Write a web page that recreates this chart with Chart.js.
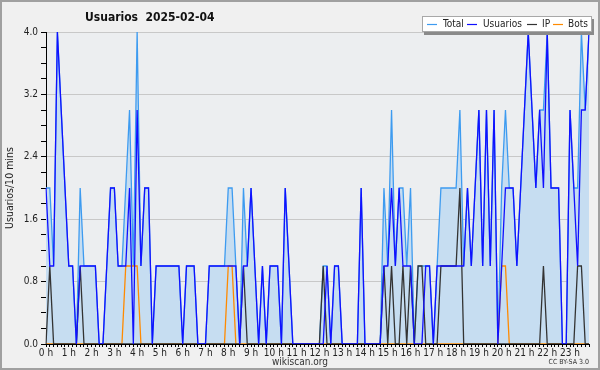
<!DOCTYPE html>
<html>
<head>
<meta charset="utf-8">
<script src="https://cdn.jsdelivr.net/npm/chart.js@4"></script>
<style>
  html, body { margin: 0; padding: 0; background: #f0f0f0; }
  #wrap { width: 600px; height: 370px; }
</style>
</head>
<body>
<div id="wrap"><canvas id="users-chart" width="600" height="370"></canvas></div>
<script>
// Data (10 minute slots, 2025-02-04)
const hourLabels = ["0 h", "1 h", "2 h", "3 h", "4 h", "5 h", "6 h", "7 h", "8 h", "9 h", "10 h", "11 h",
  "12 h", "13 h", "14 h", "15 h", "16 h", "17 h", "18 h", "19 h", "20 h", "21 h", "22 h", "23 h"];

const totalValues = [
  2,2,1,4,3,2,1,1,0,2,1,1,
  1,1,0,0,1,2,2,1,1,2,3,1,
  4,1,2,2,0,1,1,1,1,1,1,1,
  0,1,1,1,0,0,0,1,1,1,1,1,
  2,2,1,0,2,1,2,1,0,1,0,1,
  1,1,0,2,1,0,0,0,0,0,0,0,
  0,1,1,0,1,1,0,0,0,0,0,2,
  0,0,0,0,0,2,1,3,1,2,2,1,
  2,0,1,1,1,1,0,1,2,2,2,2,
  2,3,1,2,1,2,3,1,3,1,3,0,
  2,3,2,2,1,2,3,4,3,2,3,3,
  4,2,2,2,0,0,3,2,2,4,3,4
];
const usuariosValues = [
  2,1,1,4,3,2,1,1,0,1,1,1,
  1,1,0,0,1,2,2,1,1,1,2,0,
  3,1,2,2,0,1,1,1,1,1,1,1,
  0,1,1,1,0,0,0,1,1,1,1,1,
  1,1,1,0,1,1,2,1,0,1,0,1,
  1,1,0,2,1,0,0,0,0,0,0,0,
  0,0,1,0,1,1,0,0,0,0,0,2,
  0,0,0,0,0,1,1,2,1,2,1,1,
  1,0,0,0,1,1,0,1,1,1,1,1,
  1,1,1,2,1,2,3,1,3,1,3,0,
  1,2,2,2,1,2,3,4,3,2,3,2,
  4,2,2,2,0,0,3,2,1,3,3,4
];
const ipValues = [
  0,1,0,0,0,0,0,0,0,1,0,0,
  0,0,0,0,0,0,0,0,0,0,0,0,
  0,0,0,0,0,0,0,0,0,0,0,0,
  0,0,0,0,0,0,0,0,0,0,0,0,
  0,0,0,0,1,0,0,0,0,0,0,0,
  0,0,0,0,0,0,0,0,0,0,0,0,
  0,1,0,0,0,0,0,0,0,0,0,0,
  0,0,0,0,0,1,0,1,0,0,1,0,
  1,0,1,1,0,0,0,0,1,1,1,1,
  1,2,0,0,0,0,0,0,0,0,0,0,
  0,0,0,0,0,0,0,0,0,0,0,1,
  0,0,0,0,0,0,0,0,1,1,0,0
];
const botsValues = [
  0,0,0,0,0,0,0,0,0,0,0,0,
  0,0,0,0,0,0,0,0,0,1,1,1,
  1,0,0,0,0,0,0,0,0,0,0,0,
  0,0,0,0,0,0,0,0,0,0,0,0,
  1,1,0,0,0,0,0,0,0,0,0,0,
  0,0,0,0,0,0,0,0,0,0,0,0,
  0,0,0,0,0,0,0,0,0,0,0,0,
  0,0,0,0,0,0,0,0,0,0,0,0,
  0,0,0,0,0,0,0,0,0,0,0,0,
  0,0,0,0,0,0,0,0,0,0,0,0,
  1,1,0,0,0,0,0,0,0,0,0,0,
  0,0,0,0,0,0,0,0,0,0,0,0
];

// one label per 10 min slot
const slots = totalValues.map((v, i) => Math.floor(i / 6) + ':' + String((i % 6) * 10).padStart(2, '0'));

const seriesColors = {
  total: '#3d9bf0',
  usuarios: '#1010ff',
  ip: '#333333',
  bots: '#ff8a00'
};

const narrow = '"DejaVu Sans Condensed", "Liberation Sans Narrow", "DejaVu Sans"';

const isMajor = v => Math.round(v * 5) % 4 === 0;

// background, title, legend and footer
const decorPlugin = {
  id: 'decor',
  beforeDraw(chart) {
    const { ctx, chartArea: a, width, height } = chart;
    ctx.save();
    ctx.fillStyle = '#f0f0f0';
    ctx.fillRect(0, 0, width, height);
    ctx.fillStyle = '#eceef0';
    ctx.fillRect(a.left, a.top, a.right - a.left, a.bottom - a.top);
    ctx.restore();
  },
  afterDraw(chart) {
    const { ctx, width, height } = chart;
    ctx.save();
    // outer frame
    ctx.strokeStyle = '#a0a0a0';
    ctx.lineWidth = 2;
    ctx.strokeRect(1, 1, width - 2, height - 2);

    // title
    ctx.fillStyle = '#111';
    ctx.font = 'bold 12px ' + narrow;
    ctx.textBaseline = 'alphabetic';
    ctx.textAlign = 'left';
    ctx.fillText('Usuarios  2025-02-04', 85, 21);

    // legend box
    ctx.fillStyle = '#8a8a8a';
    ctx.fillRect(424, 19, 170, 16);
    ctx.fillStyle = '#ffffff';
    ctx.fillRect(422, 17, 169, 15);
    ctx.strokeStyle = '#a8a8a8';
    ctx.lineWidth = 1;
    ctx.strokeRect(422.5, 16.5, 169, 15);
    const items = [
      ['Total', seriesColors.total, 427, 443],
      ['Usuarios', seriesColors.usuarios, 467, 483],
      ['IP', seriesColors.ip, 527, 542],
      ['Bots', seriesColors.bots, 553, 568]
    ];
    ctx.font = '10px ' + narrow;
    ctx.textBaseline = 'middle';
    items.forEach(([label, color, lx, tx]) => {
      ctx.strokeStyle = color;
      ctx.lineWidth = 1.2;
      ctx.beginPath();
      ctx.moveTo(lx, 24.5);
      ctx.lineTo(lx + 10, 24.5);
      ctx.stroke();
      ctx.fillStyle = '#222';
      ctx.fillText(label, tx, 24.5);
    });

    // footer
    ctx.fillStyle = '#333';
    ctx.font = '10px ' + narrow;
    ctx.textAlign = 'center';
    ctx.fillText('wikiscan.org', 300, 362);
    ctx.font = '7px ' + narrow;
    ctx.textAlign = 'right';
    ctx.fillText('CC BY-SA 3.0', 589, 362);
    ctx.restore();
  }
};

const usersData = {
  labels: slots,
  datasets: [
    {
      label: 'Total',
      data: totalValues,
      borderColor: seriesColors.total,
      backgroundColor: '#c6ddf1',
      fill: 'origin',
      order: 4
    },
    {
      label: 'Usuarios',
      data: usuariosValues,
      borderColor: seriesColors.usuarios,
      fill: false,
      order: 1
    },
    {
      label: 'IP',
      data: ipValues,
      borderColor: seriesColors.ip,
      fill: false,
      order: 2
    },
    {
      label: 'Bots',
      data: botsValues,
      borderColor: seriesColors.bots,
      fill: false,
      order: 3
    }
  ]
};

const usersOptions = {
  responsive: false,
  animation: false,
  layout: {
    padding: { top: 32, right: 11, bottom: 0, left: 0 }
  },
  elements: {
    line: { tension: 0, borderWidth: 1.3 },
    point: { radius: 0 }
  },
  scales: {
    x: {
      type: 'category',
      offset: false,
      afterFit(scale) { scale.height = 26; },
      border: { display: true, color: '#000', width: 1 },
      grid: {
        drawOnChartArea: false,
        tickLength: 3,
        tickColor: '#000'
      },
      ticks: {
        autoSkip: false,
        maxRotation: 0,
        padding: 0,
        color: '#222',
        font: { family: narrow, size: 10 },
        callback: (val, idx) => idx % 6 === 0 ? hourLabels[idx / 6] : ''
      }
    },
    y: {
      min: 0,
      max: 4,
      afterFit(scale) { scale.width = 46; },
      border: { display: true, color: '#000', width: 1 },
      grid: {
        color: ctx => (ctx.tick && isMajor(ctx.tick.value) && ctx.tick.value > 0) ? '#c8c8c8' : 'rgba(0,0,0,0)',
        tickColor: '#000',
        tickLength: 5
      },
      ticks: {
        stepSize: 0.2,
        padding: 3,
        autoSkip: false,
        color: '#222',
        font: { family: narrow, size: 10 },
        callback: v => isMajor(v) ? v.toFixed(1) : ''
      },
      title: {
        display: true,
        text: 'Usuarios/10 mins',
        color: '#222',
        font: { family: narrow, size: 10.5 },
        padding: { top: 4, bottom: 0 }
      }
    }
  },
  plugins: {
    legend: { display: false },
    title: { display: false },
    tooltip: { enabled: false }
  }
};

const usersChart = new Chart(document.getElementById('users-chart'), {
  type: 'line',
  data: usersData,
  options: usersOptions,
  plugins: [decorPlugin]
});
</script>
</body>
</html>
